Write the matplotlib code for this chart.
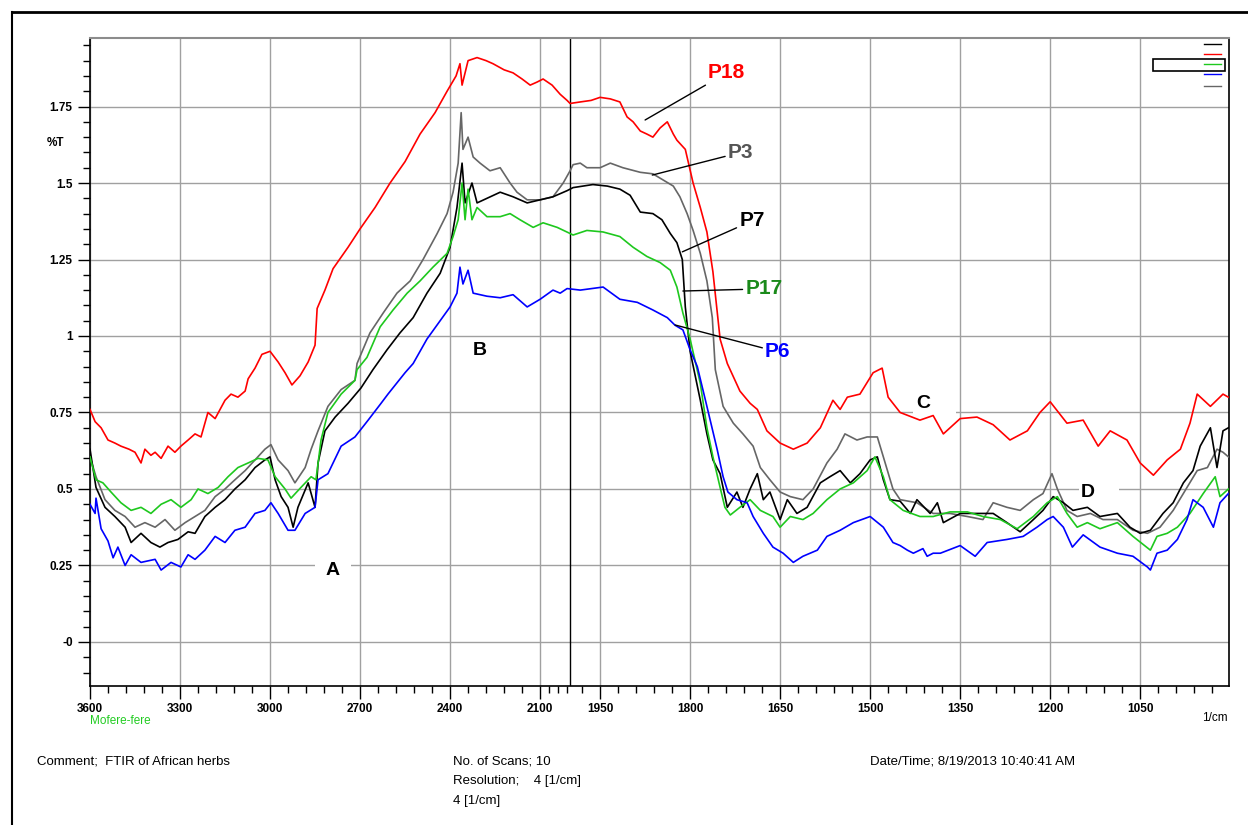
import numpy as np
import matplotlib
matplotlib.use('Agg')
import matplotlib.pyplot as plt
from matplotlib.lines import Line2D
from matplotlib.patches import Rectangle
from matplotlib.ticker import FixedLocator, FixedFormatter

plt.rcParams['font.family'] = ['Liberation Sans', 'DejaVu Sans']

# wavenumber [1/cm] / value
p18_x = [3600, 3583, 3563, 3540, 3517, 3497, 3470, 3450, 3430, 3417, 3397, 3383, 3363, 3340,
         3317, 3297, 3273, 3250, 3230, 3207, 3183, 3150, 3130, 3107, 3083, 3073, 3050, 3027,
         3000, 2973, 2950, 2927, 2900, 2873, 2850, 2843, 2817, 2790, 2740, 2700, 2650, 2600,
         2550, 2500, 2450, 2410, 2380, 2367, 2360, 2340, 2310, 2280, 2257, 2220, 2190, 2160,
         2133, 2110, 2090, 2060, 2033, 2010, 2000, 1983, 1965, 1950, 1933, 1917, 1905, 1895,
         1883, 1872, 1862, 1850, 1838, 1828, 1822, 1808, 1795, 1783, 1772, 1762, 1750, 1738,
         1717, 1700, 1688, 1672, 1650, 1628, 1605, 1583, 1562, 1550, 1538, 1517, 1495, 1480,
         1470, 1450, 1417, 1395, 1378, 1350, 1322, 1295, 1267, 1238, 1217, 1200, 1172, 1145,
         1120, 1100, 1072, 1050, 1028, 1005, 983, 967, 955, 933, 912, 903]
p18_y = [0.76, 0.72, 0.70, 0.66, 0.65, 0.64, 0.63, 0.62, 0.585, 0.63, 0.61, 0.62, 0.60, 0.64,
         0.62, 0.64, 0.66, 0.68, 0.67, 0.75, 0.73, 0.79, 0.81, 0.80, 0.82, 0.86, 0.895, 0.94,
         0.95, 0.915, 0.88, 0.84, 0.87, 0.915, 0.97, 1.09, 1.15, 1.22, 1.29, 1.35, 1.42, 1.50,
         1.57, 1.66, 1.73, 1.80, 1.85, 1.89, 1.82, 1.90, 1.91, 1.90, 1.89, 1.87, 1.86, 1.84,
         1.82, 1.83, 1.84, 1.82, 1.79, 1.77, 1.76, 1.765, 1.77, 1.78, 1.775, 1.765, 1.716, 1.70,
         1.67, 1.66, 1.65, 1.68, 1.70, 1.66, 1.64, 1.61, 1.50, 1.42, 1.34, 1.21, 0.99, 0.91,
         0.82, 0.78, 0.76, 0.69, 0.65, 0.63, 0.65, 0.70, 0.79, 0.76, 0.80, 0.81, 0.88, 0.895,
         0.80, 0.75, 0.725, 0.74, 0.68, 0.73, 0.735, 0.71, 0.66, 0.69, 0.75, 0.785, 0.715, 0.725,
         0.64, 0.69, 0.66, 0.585, 0.545, 0.595, 0.63, 0.715, 0.81, 0.77, 0.81, 0.80]

p3_x = [3600, 3580, 3550, 3517, 3483, 3450, 3417, 3383, 3350, 3317, 3283, 3250, 3217, 3183,
        3150, 3117, 3083, 3050, 3017, 2997, 2973, 2940, 2917, 2883, 2863, 2840, 2807, 2763,
        2717, 2710, 2667, 2623, 2577, 2533, 2490, 2443, 2410, 2390, 2373, 2363, 2357, 2340,
        2323, 2300, 2267, 2233, 2200, 2177, 2143, 2100, 2057, 2023, 2000, 1995, 1983, 1972,
        1950, 1933, 1912, 1883, 1862, 1845, 1828, 1817, 1805, 1795, 1783, 1772, 1763, 1758,
        1745, 1728, 1712, 1695, 1683, 1667, 1650, 1633, 1612, 1595, 1572, 1555, 1542, 1522,
        1505, 1488, 1478, 1462, 1450, 1422, 1395, 1367, 1338, 1312, 1295, 1272, 1250, 1228,
        1212, 1197, 1188, 1172, 1155, 1133, 1112, 1088, 1062, 1038, 1017, 995, 972, 955,
        938, 922, 912, 903]
p3_y = [0.605, 0.54, 0.465, 0.43, 0.41, 0.375, 0.39, 0.375, 0.40, 0.365, 0.39, 0.41, 0.43, 0.475,
        0.50, 0.53, 0.56, 0.595, 0.63, 0.645, 0.595, 0.56, 0.52, 0.57, 0.63, 0.69, 0.77, 0.825,
        0.855, 0.91, 1.01, 1.075, 1.14, 1.18, 1.25, 1.335, 1.40, 1.47, 1.565, 1.73, 1.61, 1.65,
        1.585, 1.565, 1.54, 1.55, 1.50, 1.47, 1.445, 1.445, 1.455, 1.50, 1.54, 1.56, 1.565, 1.55,
        1.55, 1.565, 1.55, 1.535, 1.53, 1.51, 1.49, 1.455, 1.40, 1.345, 1.27, 1.18, 1.06, 0.89,
        0.77, 0.715, 0.68, 0.64, 0.57, 0.53, 0.49, 0.475, 0.465, 0.50, 0.585, 0.63, 0.68, 0.66,
        0.67, 0.67, 0.605, 0.50, 0.465, 0.455, 0.42, 0.42, 0.41, 0.40, 0.455, 0.44, 0.43, 0.465,
        0.485, 0.55, 0.50, 0.43, 0.41, 0.42, 0.40, 0.40, 0.365, 0.355, 0.375, 0.43, 0.505, 0.56,
        0.57, 0.63, 0.62, 0.605]

p7_x = [3600, 3580, 3550, 3517, 3483, 3463, 3430, 3397, 3367, 3340, 3307, 3273, 3250, 3217,
        3183, 3150, 3117, 3083, 3050, 3017, 3000, 2983, 2963, 2940, 2923, 2907, 2873, 2850,
        2840, 2817, 2783, 2740, 2697, 2657, 2610, 2567, 2523, 2477, 2433, 2400, 2377, 2360,
        2350, 2327, 2310, 2277, 2233, 2190, 2143, 2100, 2057, 2010, 1995, 1962, 1938, 1917,
        1900, 1883, 1862, 1847, 1833, 1822, 1813, 1808, 1800, 1783, 1772, 1762, 1750, 1738,
        1722, 1712, 1700, 1688, 1678, 1667, 1650, 1638, 1622, 1605, 1583, 1567, 1550, 1533,
        1517, 1500, 1488, 1478, 1467, 1450, 1433, 1422, 1400, 1388, 1378, 1350, 1322, 1295,
        1272, 1250, 1228, 1212, 1195, 1178, 1162, 1138, 1117, 1088, 1067, 1050, 1033, 1012,
        995, 978, 962, 950, 933, 922, 912, 903]
p7_y = [0.63, 0.505, 0.44, 0.41, 0.375, 0.325, 0.355, 0.325, 0.31, 0.325, 0.335, 0.36, 0.355, 0.41,
        0.44, 0.465, 0.50, 0.53, 0.57, 0.595, 0.605, 0.53, 0.475, 0.44, 0.375, 0.44, 0.52, 0.44,
        0.585, 0.69, 0.735, 0.78, 0.83, 0.89, 0.955, 1.01, 1.06, 1.14, 1.205, 1.29, 1.42, 1.565,
        1.435, 1.50, 1.435, 1.45, 1.47, 1.455, 1.435, 1.445, 1.455, 1.475, 1.485, 1.495, 1.49, 1.48,
        1.46, 1.405, 1.40, 1.38, 1.335, 1.305, 1.25, 1.095, 0.95, 0.79, 0.68, 0.595, 0.55, 0.44,
        0.49, 0.44, 0.50, 0.55, 0.465, 0.49, 0.40, 0.465, 0.42, 0.44, 0.52, 0.54, 0.56, 0.52,
        0.55, 0.595, 0.605, 0.53, 0.465, 0.46, 0.42, 0.465, 0.42, 0.455, 0.39, 0.42, 0.42, 0.42,
        0.39, 0.36, 0.40, 0.43, 0.475, 0.455, 0.43, 0.44, 0.41, 0.42, 0.375, 0.355, 0.365, 0.42,
        0.455, 0.52, 0.56, 0.64, 0.70, 0.57, 0.69, 0.70]

p17_x = [3600, 3580, 3557, 3530, 3497, 3463, 3430, 3397, 3363, 3330, 3297, 3263, 3240, 3207,
         3173, 3140, 3107, 3073, 3040, 3007, 2983, 2950, 2930, 2897, 2863, 2847, 2830, 2807,
         2763, 2717, 2710, 2677, 2633, 2590, 2543, 2500, 2457, 2410, 2390, 2373, 2360, 2350,
         2340, 2327, 2310, 2277, 2233, 2200, 2167, 2123, 2090, 2043, 2000, 1995, 1972, 1945,
         1917, 1895, 1872, 1850, 1833, 1822, 1812, 1800, 1783, 1772, 1762, 1750, 1742, 1733,
         1717, 1700, 1683, 1662, 1650, 1633, 1612, 1595, 1572, 1550, 1528, 1505, 1492, 1478,
         1467, 1445, 1417, 1395, 1367, 1338, 1312, 1283, 1255, 1228, 1205, 1188, 1172, 1155,
         1138, 1117, 1088, 1062, 1033, 1022, 1005, 988, 967, 945, 925, 917, 903]
p17_y = [0.605, 0.53, 0.52, 0.49, 0.455, 0.43, 0.44, 0.42, 0.45, 0.465, 0.44, 0.465, 0.50, 0.485,
         0.505, 0.54, 0.57, 0.585, 0.60, 0.595, 0.54, 0.50, 0.47, 0.505, 0.54, 0.53, 0.66, 0.75,
         0.81, 0.855, 0.89, 0.93, 1.03, 1.085, 1.14, 1.18, 1.225, 1.27, 1.325, 1.38, 1.50, 1.38,
         1.48, 1.38, 1.42, 1.39, 1.39, 1.40, 1.38, 1.355, 1.37, 1.355, 1.335, 1.33, 1.345, 1.34,
         1.325, 1.29, 1.26, 1.24, 1.215, 1.16, 1.075, 0.99, 0.845, 0.70, 0.605, 0.505, 0.44, 0.415,
         0.44, 0.465, 0.43, 0.41, 0.375, 0.41, 0.40, 0.42, 0.465, 0.50, 0.52, 0.56, 0.605, 0.54,
         0.465, 0.43, 0.41, 0.41, 0.425, 0.425, 0.41, 0.40, 0.37, 0.41, 0.455, 0.475, 0.42, 0.375,
         0.39, 0.37, 0.39, 0.345, 0.30, 0.345, 0.355, 0.375, 0.42, 0.485, 0.54, 0.475, 0.50]

p6_x = [3600, 3583, 3580, 3563, 3540, 3523, 3507, 3483, 3463, 3430, 3383, 3363, 3330, 3297,
        3273, 3250, 3217, 3183, 3150, 3117, 3083, 3050, 3017, 2997, 2973, 2940, 2917, 2883,
        2850, 2840, 2807, 2763, 2717, 2673, 2630, 2607, 2550, 2523, 2477, 2433, 2400, 2377,
        2367, 2357, 2340, 2323, 2277, 2233, 2190, 2143, 2100, 2057, 2033, 2010, 1983, 1945,
        1917, 1888, 1862, 1838, 1825, 1812, 1800, 1788, 1772, 1755, 1745, 1737, 1722, 1705,
        1695, 1678, 1662, 1645, 1628, 1612, 1588, 1572, 1550, 1528, 1500, 1478, 1462, 1450,
        1438, 1428, 1412, 1405, 1395, 1383, 1350, 1325, 1305, 1272, 1245, 1222, 1205, 1195,
        1178, 1163, 1145, 1117, 1088, 1062, 1038, 1033, 1022, 1005, 988, 972, 962, 945,
        928, 917, 903]
p6_y = [0.45, 0.42, 0.47, 0.37, 0.33, 0.275, 0.31, 0.25, 0.285, 0.26, 0.27, 0.235, 0.26, 0.245,
        0.285, 0.27, 0.30, 0.345, 0.325, 0.365, 0.375, 0.42, 0.43, 0.455, 0.42, 0.365, 0.365, 0.42,
        0.44, 0.53, 0.55, 0.64, 0.67, 0.725, 0.78, 0.81, 0.88, 0.91, 0.99, 1.05, 1.095, 1.14,
        1.225, 1.17, 1.215, 1.14, 1.13, 1.125, 1.135, 1.095, 1.12, 1.15, 1.14, 1.155, 1.15, 1.16,
        1.12, 1.11, 1.085, 1.06, 1.035, 1.02, 0.955, 0.90, 0.77, 0.63, 0.54, 0.49, 0.465, 0.455,
        0.41, 0.355, 0.31, 0.29, 0.26, 0.28, 0.30, 0.345, 0.365, 0.39, 0.41, 0.375, 0.325, 0.315,
        0.30, 0.29, 0.305, 0.28, 0.29, 0.29, 0.315, 0.28, 0.325, 0.335, 0.345, 0.375, 0.40, 0.41,
        0.375, 0.31, 0.35, 0.31, 0.29, 0.28, 0.245, 0.235, 0.29, 0.30, 0.335, 0.40, 0.465, 0.44,
        0.375, 0.455, 0.485]

x_major = [3600, 3300, 3000, 2700, 2400, 2100, 1950, 1800, 1650, 1500, 1350, 1200, 1050]
y_major = [0, 0.25, 0.5, 0.75, 1.0, 1.25, 1.5, 1.75]
y_labels = ['-0', '0.25', '0.5', '0.75', '1', '1.25', '1.5', '1.75']


def fwd(w):
    w = np.asarray(w, dtype=float)
    return np.where(w > 2000, 2000 + (w - 2000) * 0.5, w)


def inv(u):
    u = np.asarray(u, dtype=float)
    return np.where(u > 2000, 2000 + (u - 2000) * 2.0, u)


fig = plt.figure(figsize=(12.48, 8.25), dpi=100)
ax = fig.add_axes([90 / 1248, 1 - 686 / 825, 1139 / 1248, 648 / 825])
ax.set_xscale('function', functions=(fwd, inv))

ax.plot(p18_x, p18_y, color='#ff0000', lw=1.2, zorder=3)
ax.plot(p3_x, p3_y, color='#666666', lw=1.2, zorder=3)
ax.plot(p7_x, p7_y, color='#000000', lw=1.2, zorder=3)
ax.plot(p17_x, p17_y, color='#1ec81e', lw=1.2, zorder=3)
ax.plot(p6_x, p6_y, color='#0000ff', lw=1.2, zorder=3)

ax.set_xlim(3600, 902)
ax.set_ylim(-0.144, 1.974)

x_minor = [w for w in range(3540, 2100, -60) if w not in x_major] + [2070, 2040, 2010, 1980]
x_minor += [w for w in range(1920, 900, -30) if w not in x_major]
ax.xaxis.set_major_locator(FixedLocator(x_major))
ax.xaxis.set_major_formatter(FixedFormatter([str(v) for v in x_major]))
ax.xaxis.set_minor_locator(FixedLocator(x_minor))
ax.yaxis.set_major_locator(FixedLocator(y_major))
ax.yaxis.set_major_formatter(FixedFormatter(y_labels))
ax.yaxis.set_minor_locator(FixedLocator(list(np.arange(-0.1, 1.96, 0.05))))

ax.tick_params(which='major', direction='out', length=9, width=1, labelsize=8.5)
ax.tick_params(which='minor', direction='out', length=5, width=1)
for lab in ax.get_xticklabels() + ax.get_yticklabels():
    lab.set_fontweight('bold')
ax.tick_params(axis='x', pad=3)

ax.grid(True, which='major', color='#a0a0a0', lw=1.0, zorder=1)
ax.axvline(2000, color='black', lw=1.0, zorder=2)
ax.spines['top'].set_color('#8c8c8c')
ax.spines['top'].set_linewidth(1.5)
for s in ['left', 'bottom', 'right']:
    ax.spines[s].set_linewidth(1.2)

# legend swatches in the upper right corner
for yy, c in zip([0.9912, 0.9758, 0.9594, 0.944, 0.926],
                 ['#000000', '#ff0000', '#1ec81e', '#0000ff', '#666666']):
    ax.add_line(Line2D([0.978, 0.993], [yy, yy], transform=ax.transAxes, color=c, lw=1, zorder=4))
ax.add_patch(Rectangle((0.9333, 0.9495), 0.0632, 0.0181, transform=ax.transAxes,
                       fill=False, ec='black', lw=1.2, zorder=4))

# sample labels with leader lines
lab_kw = dict(fontsize=15, fontweight='bold', va='center', ha='left', zorder=5)
ax.annotate('P18', xy=(1875, 1.706), xytext=(1770, 1.86), color='#ff0000',
            arrowprops=dict(arrowstyle='-', color='black', lw=1, shrinkA=0, shrinkB=0), **lab_kw)
ax.annotate('P3', xy=(1863, 1.526), xytext=(1737, 1.60), color='#555555',
            arrowprops=dict(arrowstyle='-', color='black', lw=1, shrinkA=0, shrinkB=0), **lab_kw)
ax.annotate('P7', xy=(1813, 1.275), xytext=(1718, 1.376), color='#000000',
            arrowprops=dict(arrowstyle='-', color='black', lw=1, shrinkA=0, shrinkB=0), **lab_kw)
ax.annotate('P17', xy=(1812, 1.147), xytext=(1708, 1.154), color='#1a8a1a',
            arrowprops=dict(arrowstyle='-', color='black', lw=1, shrinkA=0, shrinkB=0), **lab_kw)
ax.annotate('P6', xy=(1825, 1.036), xytext=(1675, 0.948), color='#0000ff',
            arrowprops=dict(arrowstyle='-', color='black', lw=1, shrinkA=0, shrinkB=0), **lab_kw)

# peak letters; white boxes break the grid behind them
ax.text(2790, 0.235, 'A', fontsize=14, fontweight='bold', ha='center', va='center', zorder=2.5,
        bbox=dict(boxstyle='square,pad=0.55', fc='white', ec='none'))
ax.text(2300, 0.954, 'B', fontsize=14, fontweight='bold', ha='center', va='center', zorder=2.5)
ax.text(1422, 0.778, 'C    ', fontsize=14, fontweight='bold', ha='left', va='center', zorder=2.5,
        bbox=dict(boxstyle='square,pad=0.2', fc='white', ec='none'))
ax.text(1148, 0.49, 'D    ', fontsize=14, fontweight='bold', ha='left', va='center', zorder=2.5,
        bbox=dict(boxstyle='square,pad=0.1', fc='white', ec='none'))

fig.text(55 / 1248, 1 - 143 / 825, '%T', fontsize=8.5, fontweight='bold', ha='center', va='center')
fig.text(1215 / 1248, 1 - 718 / 825, '1/cm', fontsize=8.5, ha='center', va='center')
fig.text(90 / 1248, 1 - 721 / 825, 'Mofere-fere', fontsize=8.5, color='#22cc22', ha='left', va='center')

info = [(37, 761, 'Comment;  FTIR of African herbs'),
        (453, 761, 'No. of Scans; 10'),
        (453, 781, 'Resolution;    4 [1/cm]'),
        (453, 801, '4 [1/cm]'),
        (870, 761, 'Date/Time; 8/19/2013 10:40:41 AM')]
for px, py, s in info:
    fig.text(px / 1248, 1 - py / 825, s, fontsize=9.5, ha='left', va='center',
             family=['Liberation Sans Narrow', 'Liberation Sans', 'DejaVu Sans'])

# page frame
fig.add_artist(Line2D([12 / 1248, 1], [1 - 12 / 825, 1 - 12 / 825], color='black', lw=2))
fig.add_artist(Line2D([12 / 1248, 12 / 1248], [0, 1 - 12 / 825], color='black', lw=1.5))

fig.savefig('out.png', dpi=100)
